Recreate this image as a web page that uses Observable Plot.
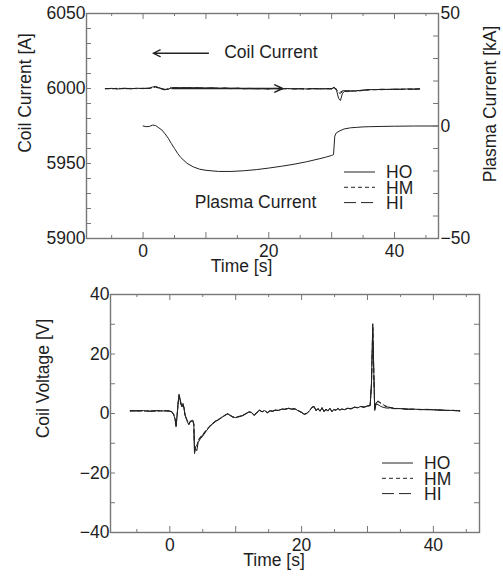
<!DOCTYPE html>
<html><head><meta charset="utf-8">
<script src="https://cdn.jsdelivr.net/npm/d3@7"></script>
<script src="https://cdn.jsdelivr.net/npm/@observablehq/plot@0.6"></script>
<style>
body{margin:0;background:#fff;}
#chart{width:503px;height:576px;}
#chart svg{display:block;}
</style></head><body><div id="chart"></div>
<script>
// ---------- data ----------
const seriesNames = ["HO", "HM", "HI"];

const coilTime = [-6,-5,-4,-3,-2,-1,0, 1,1.5,2,2.5,3,3.5,4,4.5,5,
  6,7,8,9,10,11,12,13,14,15,16,17,18,19,20,21,22,23,24,25,26,27,28,29,30,
  30.4,30.8,31.1,31.4,31.7,32,32.5,33,
  34,35,36,37,38,39,40,41,42,43,44];
const coilHO = [5999.8,6000.1,5999.7,6000.0,5999.8,6000.2,5999.9,
  6000.3,6001.0,6001.4,6000.6,5999.9,5999.4,5999.6,6000.4,6000.6,
  6000.4,6000.6,6000.3,6000.5,6000.2,6000.4,6000.1,6000.3,6000.0,6000.2,5999.9,6000.1,5999.8,6000.0,5999.8,6000.1,5999.8,6000.0,5999.7,5999.9,5999.7,6000.0,5999.7,5999.9,5999.8,
  6000.9,5998.5,5993.5,5992.0,5996.5,5998.0,5998.6,5998.2,
  5998.5,5998.9,5999.3,5999.2,5999.5,5999.3,5999.6,5999.4,5999.7,5999.5,5999.8];
const coilHM = [6000.0,5999.8,6000.2,5999.8,6000.1,5999.9,6000.1,
  6000.0,6000.5,6000.9,6000.2,5999.6,5999.0,5999.4,6000.8,6000.3,
  6000.2,6000.5,6000.2,6000.4,6000.1,6000.3,6000.0,6000.2,5999.9,6000.2,5999.8,6000.0,5999.8,6000.1,5999.7,6000.0,5999.8,5999.9,5999.8,5999.8,5999.6,5999.9,5999.8,5999.8,5999.9,
  6000.5,5999.2,5997.2,5996.8,5997.8,5998.2,5997.9,5998.5,
  5998.2,5998.7,5999.1,5999.3,5999.2,5999.5,5999.3,5999.6,5999.5,5999.6,5999.7];
const coilHI = [5999.9,6000.0,5999.8,6000.2,5999.9,6000.0,6000.1,
  6000.1,6000.7,6001.1,6000.4,5999.8,5999.2,5999.9,6000.2,6000.5,
  6000.3,6000.4,6000.4,6000.3,6000.3,6000.2,6000.2,6000.1,6000.1,6000.0,6000.0,5999.9,5999.9,5999.9,5999.8,5999.9,5999.7,5999.9,5999.8,5999.8,5999.8,5999.8,5999.9,5999.8,5999.8,
  6000.6,5999.5,5998.0,5997.6,5998.4,5998.6,5998.3,5998.4,
  5998.6,5998.8,5999.2,5999.3,5999.4,5999.4,5999.5,5999.5,5999.6,5999.6,5999.7];

const plasmaTime = [0,0.5,1,1.5,2,2.5,3,3.5,4,4.5,5,5.5,6,7,8,9,10,12,14,16,18,20,22,24,26,28,29,30,30.3,30.5,30.7,31,31.5,32,33,34,35,36,38,40,43,47];
const plasmaKA = [0,-0.3,-0.2,0.4,0.2,-0.8,-1.8,-3.5,-5.4,-7.8,-10.0,-12.2,-14.0,-16.6,-18.2,-19.2,-19.7,-20.2,-20.2,-19.9,-19.4,-18.7,-17.9,-17.0,-15.9,-14.6,-13.9,-13.1,-12.7,-4.5,-3.2,-2.6,-1.9,-1.3,-0.8,-0.6,-0.4,-0.3,-0.2,-0.1,0,0];

const voltTime = [-6,-5,-4,-3,-2,-1,-0.5,0,
  0.3,0.6,0.8,0.95,1.1,1.25,1.4,1.55,1.7,1.85,2.0,2.15,2.3,2.5,2.7,2.9,3.1,3.3,3.5,3.65,
  3.75,3.9,4.1,4.3,4.6,5.0,
  5.5,6.0,6.5,7.0,7.5,8.0,8.5,
  8.8,9.1,9.5,10.0,10.5,11.0,11.5,12.0,
  12.4,12.8,13.2,13.6,14.0,14.4,14.8,15.2,15.6,16.0,
  16.5,17.0,17.5,18.0,18.5,19.0,19.5,20.0,
  20.4,20.8,21.2,21.6,21.9,
  22.2,22.5,22.8,23.1,23.4,23.7,24.0,24.3,24.6,24.9,25.2,25.5,25.8,
  26.1,26.5,27.0,27.5,28.0,28.5,29.0,29.5,30.0,
  30.4,30.6,30.8,30.95,31.1,31.3,31.6,32.0,32.5,33.0,33.5,34.0,
  35,36,37,38,39,40,41,42,43,44];
const voltHO = [0.9,0.8,1.0,0.7,0.9,0.8,1.0,0.8,
  0.6,-0.5,-2.0,-4.5,-1.0,3.5,6.5,5.0,3.2,2.2,3.4,2.0,-0.5,-1.8,-3.0,-3.8,-2.8,-2.6,-2.4,-4.0,
  -13.5,-11.8,-12.5,-9.8,-8.6,-7.6,
  -6.0,-4.6,-3.5,-2.6,-2.0,-1.2,-0.5,
  -0.1,-0.6,-1.2,-1.4,-1.1,-0.8,-0.2,0.5,
  0.3,-0.7,0.2,1.2,0.5,1.0,0.2,0.9,0.7,1.1,
  1.0,1.5,1.4,1.8,1.4,1.6,0.9,0.3,
  -0.3,0.0,0.9,2.2,2.4,
  0.9,1.6,0.7,2.0,0.6,1.4,0.9,1.8,0.6,1.3,1.1,1.7,1.2,
  1.5,1.3,1.8,1.5,2.1,1.9,2.4,2.1,2.6,
  2.6,10.0,30.2,15.0,1.0,3.2,3.0,2.4,2.0,1.8,1.9,1.6,
  1.7,1.4,1.5,1.3,1.4,1.3,1.2,1.1,1.0,0.9];
const voltHM = [1.0,0.9,0.8,0.9,0.8,1.0,0.8,0.9,
  0.5,-0.3,-1.6,-3.8,-0.6,3.2,6.0,4.8,3.4,2.4,3.0,1.8,-0.3,-1.5,-2.6,-3.4,-2.6,-2.4,-2.2,-3.5,
  -12.4,-11.0,-11.2,-9.0,-8.0,-7.0,
  -5.6,-4.3,-3.3,-2.4,-1.8,-1.0,-0.4,
  0.0,-0.5,-1.0,-1.3,-1.0,-0.7,-0.1,0.6,
  0.4,-0.5,0.3,1.1,0.6,1.1,0.3,1.0,0.8,1.2,
  1.1,1.4,1.5,1.7,1.5,1.5,1.0,0.4,
  -0.2,0.1,1.0,2.0,2.2,
  1.1,1.5,0.9,1.8,0.8,1.3,1.0,1.7,0.7,1.4,1.2,1.6,1.3,
  1.5,1.3,1.7,1.7,2.1,2.0,2.3,2.2,2.5,
  2.7,9.0,28.5,14.0,1.5,3.8,4.2,3.6,2.8,2.3,2.0,1.8,
  1.6,1.5,1.4,1.4,1.3,1.2,1.2,1.0,1.1,0.8];
const voltHI = [0.8,1.0,0.9,0.8,1.0,0.9,0.9,0.7,
  0.7,-0.4,-1.8,-4.0,-0.8,3.0,5.8,4.6,3.0,2.3,3.1,1.9,-0.4,-1.6,-2.8,-3.6,-2.7,-2.5,-2.3,-3.8,
  -12.8,-11.2,-10.8,-9.2,-8.2,-7.2,
  -5.8,-4.4,-3.4,-2.5,-1.9,-1.1,-0.4,
  -0.1,-0.5,-1.1,-1.3,-1.0,-0.7,-0.1,0.5,
  0.4,-0.6,0.2,1.1,0.6,1.0,0.3,0.9,0.8,1.1,
  1.1,1.5,1.4,1.7,1.5,1.6,0.9,0.4,
  -0.2,0.0,1.0,2.1,2.3,
  1.0,1.7,0.8,1.9,0.7,1.5,0.8,1.8,0.7,1.4,1.0,1.7,1.1,
  1.5,1.3,1.7,1.6,2.1,2.0,2.3,2.1,2.5,
  2.7,9.5,29.0,14.5,1.3,3.6,4.0,3.4,2.6,2.2,2.0,1.7,
  1.6,1.5,1.4,1.3,1.3,1.2,1.1,1.0,1.0,0.9];

// ticks
const timeLabels = [0, 20, 40];
const timeMajorTicks = [0, 10, 20, 30, 40];
const timeMinorTicks = [-5, 5, 15, 25, 35, 45];
const coilLabels = [5900, 5950, 6000, 6050];
const coilTicks = [5910,5920,5930,5940,5950,5960,5970,5980,5990,6000,6010,6020,6030,6040];
const plasmaLabels = [-50, 0, 50];
const plasmaTicks = [-40,-30,-20,-10,0,10,20,30,40];
const voltLabels = [-40, -20, 0, 20, 40];
const voltTicks = [-30,-20,-10,0,10,20,30];

// annotations
const coilArrow = {t1: 10.4, t2: 1.6, value: 6023.5};
const coilText = {t: 12.9, value: 6023.8, label: "Coil Current"};
const plasmaArrow = {t1: 4.6, t2: 22.2, value: 6000};
const plasmaText = {t: 17.9, value: 5924.2, label: "Plasma Current"};

// ---------- helpers ----------
const dashes = {HO: null, HM: "4,3", HI: "12,5"};
const lineColor = "#222";
const axisColor = "#777";
const textColor = "#1e1e1e";
const FONT = "'Liberation Sans', Arial, Helvetica, sans-serif";
const FS = 17.5;
const kaToCoil = ka => 5975 + 1.5 * ka;
const minus = v => (v < 0 ? "\u2212" + (-v) : String(v));

function rows(t, v) { return t.map((x, i) => ({t: x, v: v[i]})); }

function legendMark(dxLine, dyFirst) {
  return (index, scales, values, dims) => {
    const g = d3.create("svg:g");
    const right = dims.width - dims.marginRight;
    const bottom = dims.height - dims.marginBottom;
    seriesNames.forEach((s, i) => {
      const y = bottom + dyFirst + i * 15.3;
      g.append("line")
        .attr("x1", right + dxLine).attr("x2", right + dxLine + 31)
        .attr("y1", y).attr("y2", y)
        .attr("stroke", lineColor).attr("stroke-width", 1)
        .attr("stroke-dasharray", dashes[s]);
      g.append("text")
        .attr("x", right + dxLine + 42).attr("y", y)
        .attr("dy", "0.36em")
        .attr("text-anchor", "start")
        .attr("fill", textColor)
        .attr("font-size", FS)
        .text(s);
    });
    return g.node();
  };
}

function timeTicks(innerH) {
  return [
    Plot.tickX(timeMajorTicks, {x: d => d, insetTop: innerH - 6, stroke: axisColor}),
    Plot.tickX(timeMajorTicks, {x: d => d, insetBottom: innerH - 6, stroke: axisColor}),
    Plot.tickX(timeMinorTicks, {x: d => d, insetTop: innerH - 3, stroke: axisColor}),
    Plot.tickX(timeMinorTicks, {x: d => d, insetBottom: innerH - 3, stroke: axisColor}),
    Plot.axisX(timeLabels, {tickSize: 0, tickPadding: 6, label: null, anchor: "bottom", color: textColor, tickFormat: minus}),
    Plot.text(["Time [s]"], {text: d => d, frameAnchor: "bottom", dx: -21, dy: 21, lineAnchor: "top", fill: textColor, fontSize: FS})
  ];
}

// ---------- top panel ----------
const W = 503, HT = 285, HB = 291;
const topM = {l: 86, r: 65, t: 13, b: 47};
const topInnerW = W - topM.l - topM.r, topInnerH = HT - topM.t - topM.b;

const coilSeries = {HO: coilHO, HM: coilHM, HI: coilHI};
const topPlot = Plot.plot({
  width: W, height: HT,
  marginLeft: topM.l, marginRight: topM.r, marginTop: topM.t, marginBottom: topM.b,
  x: {domain: [-9, 47]},
  y: {domain: [5900, 6050]},
  style: {fontFamily: FONT, fontSize: FS + "px", color: textColor, background: "white"},
  marks: [
    ...seriesNames.map(s => Plot.line(rows(coilTime, coilSeries[s]), {x: "t", y: "v", stroke: lineColor, strokeWidth: 1, strokeDasharray: dashes[s]})),
    Plot.line(rows(plasmaTime, plasmaKA), {x: "t", y: d => kaToCoil(d.v), stroke: lineColor, strokeWidth: 1}),
    Plot.arrow([coilArrow], {x1: "t1", x2: "t2", y1: "value", y2: "value", stroke: lineColor, strokeWidth: 1.3, headLength: 9, headAngle: 50}),
    Plot.arrow([plasmaArrow], {x1: "t1", x2: "t2", y1: "value", y2: "value", stroke: lineColor, strokeWidth: 1.6, headLength: 8, headAngle: 50}),
    Plot.text([coilText], {x: "t", y: "value", text: "label", textAnchor: "start", fill: textColor, fontSize: FS}),
    Plot.text([plasmaText], {x: "t", y: "value", text: "label", textAnchor: "middle", fill: textColor, fontSize: FS}),
    Plot.tickY(coilTicks, {y: d => d, insetRight: topInnerW - 5, stroke: axisColor}),
    Plot.tickY(plasmaTicks.map(kaToCoil), {y: d => d, insetLeft: topInnerW - 5, stroke: axisColor}),
    Plot.axisY(coilLabels, {anchor: "left", tickSize: 0, tickPadding: 1, label: null, color: textColor, tickFormat: d => String(d)}),
    Plot.axisY(plasmaLabels.map(kaToCoil), {anchor: "right", tickSize: 0, tickPadding: 2, label: null, color: textColor,
      tickFormat: d => minus(Math.round((d - 5975) / 1.5))}),
    Plot.text(["Coil Current [A]"], {text: d => d, frameAnchor: "left", dx: -61, dy: -33, rotate: -90, textAnchor: "middle", lineAnchor: "middle", fill: textColor, fontSize: FS}),
    Plot.text(["Plasma Current [kA]"], {text: d => d, frameAnchor: "right", dx: 52, dy: -22, rotate: -90, textAnchor: "middle", lineAnchor: "middle", fill: textColor, fontSize: FS}),
    ...timeTicks(topInnerH),
    legendMark(-94, -66),
    Plot.frame({stroke: axisColor, strokeWidth: 1.4})
  ]
});

// ---------- bottom panel ----------
const botM = {l: 110, r: 24, t: 9, b: 44};
const botInnerW = W - botM.l - botM.r, botInnerH = HB - botM.t - botM.b;
const voltSeries = {HO: voltHO, HM: voltHM, HI: voltHI};
const botPlot = Plot.plot({
  width: W, height: HB,
  marginLeft: botM.l, marginRight: botM.r, marginTop: botM.t, marginBottom: botM.b,
  x: {domain: [-9, 47]},
  y: {domain: [-40, 40]},
  style: {fontFamily: FONT, fontSize: FS + "px", color: textColor, background: "white"},
  marks: [
    ...seriesNames.map(s => Plot.line(rows(voltTime, voltSeries[s]), {x: "t", y: "v", stroke: lineColor, strokeWidth: 1, strokeDasharray: dashes[s]})),
    Plot.tickY(voltTicks, {y: d => d, insetRight: botInnerW - 5, stroke: axisColor}),
    Plot.tickY(voltTicks, {y: d => d, insetLeft: botInnerW - 5, stroke: axisColor}),
    Plot.axisY(voltLabels, {anchor: "left", tickSize: 0, tickPadding: 1, label: null, color: textColor, tickFormat: minus}),
    Plot.text(["Coil Voltage [V]"], {text: d => d, frameAnchor: "left", dx: -67, dy: -35, rotate: -90, textAnchor: "middle", lineAnchor: "middle", fill: textColor, fontSize: FS}),
    ...timeTicks(botInnerH),
    legendMark(-97, -69),
    Plot.frame({stroke: axisColor, strokeWidth: 1.4})
  ]
});

const chart = document.getElementById("chart");
chart.append(topPlot, botPlot);
</script></body></html>
